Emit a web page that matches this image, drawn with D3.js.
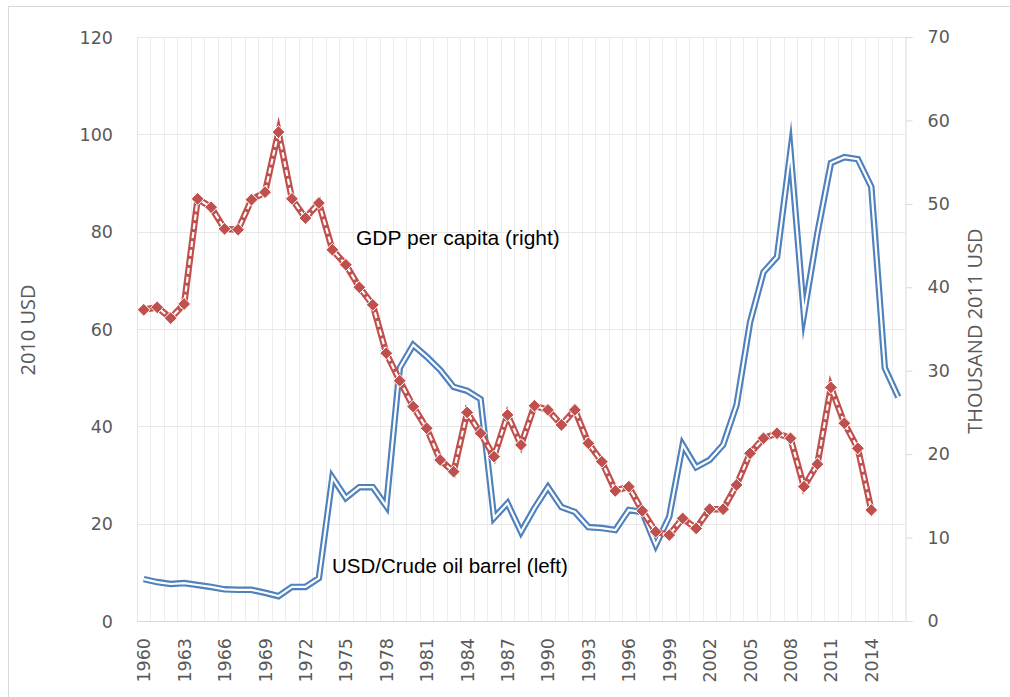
<!DOCTYPE html>
<html>
<head>
<meta charset="utf-8">
<script src="https://cdn.jsdelivr.net/npm/d3@7"></script>
<style>
  body { margin: 0; background: #fff; }
  svg { display: block; }
</style>
</head>
<body>
<div id="chart"></div>
<script>
// years on the category axis
const years = d3.range(1960, 2017);

// oil price, 2010 USD per barrel (left axis)
const oilPrice = [
  8.6, 8.0, 7.6, 7.8, 7.4, 7.0, 6.5, 6.4, 6.4, 5.8,
  5.1, 7.0, 7.0, 8.8, 29.5, 25.3, 27.5, 27.5, 23.6, 52.0,
  56.7, 54.3, 51.6, 48.1, 47.3, 45.6, 21.2, 24.2, 18.3, 23.2,
  27.5, 23.4, 22.4, 19.3, 19.1, 18.7, 22.8, 22.4, 15.6, 21.4,
  36.2, 31.6, 33.1, 36.2, 44.4, 61.4, 71.7, 74.8, 96.5, 63.0,
  79.7, 94.1, 95.3, 94.9, 89.2, 52.0, 46.0
];

// GDP per capita, thousand 2011 USD (right axis), ends in 2014
const gdpPerCapita = [
  37.3, 37.6, 36.3, 38.0, 50.6, 49.6, 47.0, 46.9, 50.5, 51.4,
  58.6, 50.6, 48.3, 50.1, 44.5, 42.7, 40.0, 37.9, 32.1, 28.8,
  25.7, 23.1, 19.3, 17.9, 25.0, 22.5, 19.7, 24.7, 21.1, 25.8,
  25.3, 23.5, 25.3, 21.3, 19.1, 15.6, 16.1, 13.2, 10.7, 10.3,
  12.3, 11.1, 13.4, 13.4, 16.3, 20.1, 21.9, 22.5, 21.9, 16.1,
  18.8, 28.0, 23.7, 20.7, 13.3
];

const leftTicks = [0, 20, 40, 60, 80, 100, 120];
const rightTicks = [0, 10, 20, 30, 40, 50, 60, 70];
const yearLabels = years.filter((y, i) => i % 3 === 0);

const W = 1010, H = 697;
const plot = { left: 137, right: 905, top: 37, bottom: 621 };
const blue = "#4f81bd", red = "#c0504d";
const tickFont = "'DejaVu Sans', Verdana, sans-serif";
const titleFont = "'Liberation Sans Narrow', 'Open Sans', sans-serif";

const svg = d3.select("#chart").append("svg")
  .attr("width", W)
  .attr("height", H);

// outer chart border
svg.append("rect")
  .attr("x", 8.5).attr("y", 6.5)
  .attr("width", W).attr("height", H)
  .attr("fill", "none")
  .attr("stroke", "#d9d9d9");

const x = d3.scaleBand()
  .domain(years)
  .range([plot.left, plot.right]);

const yLeft = d3.scaleLinear().domain([0, 120]).range([plot.bottom, plot.top]);
const yRight = d3.scaleLinear().domain([0, 70]).range([plot.bottom, plot.top]);

// vertical gridlines at category boundaries
svg.append("g")
  .selectAll("line")
  .data(years.slice(1))
  .enter().append("line")
  .attr("x1", d => Math.round(x(d)) + 0.5)
  .attr("x2", d => Math.round(x(d)) + 0.5)
  .attr("y1", plot.top)
  .attr("y2", plot.bottom)
  .attr("stroke", "#ededed");

// horizontal gridlines from left axis
svg.append("g")
  .selectAll("line")
  .data(leftTicks)
  .enter().append("line")
  .attr("x1", plot.left)
  .attr("x2", plot.right)
  .attr("y1", d => Math.round(yLeft(d)) + 0.5)
  .attr("y2", d => Math.round(yLeft(d)) + 0.5)
  .attr("stroke", d => d === 0 ? "#d9d9d9" : "#e8e8e8");

// plot area left edge
svg.append("line")
  .attr("x1", plot.left + 0.5).attr("x2", plot.left + 0.5)
  .attr("y1", plot.top).attr("y2", plot.bottom)
  .attr("stroke", "#e3e3e3");

// left axis labels
svg.append("g")
  .selectAll("text")
  .data(leftTicks)
  .enter().append("text")
  .attr("x", 113)
  .attr("y", d => yLeft(d) + 6.5)
  .attr("text-anchor", "end")
  .attr("font-family", tickFont)
  .attr("font-size", 17.5)
  .attr("fill", "#595959")
  .text(d => d);

// right axis with outward ticks
const rightAxis = svg.append("g")
  .attr("transform", `translate(${plot.right + 0.5},0)`)
  .call(d3.axisRight(yRight).tickValues(rightTicks).tickSize(7).tickPadding(15));
rightAxis.select(".domain").attr("stroke", "#d9d9d9");
rightAxis.selectAll(".tick line").attr("stroke", "#d9d9d9");
rightAxis.selectAll(".tick text")
  .attr("font-family", tickFont)
  .attr("font-size", 17.5)
  .attr("fill", "#595959");

// year labels, rotated
svg.append("g")
  .selectAll("text")
  .data(yearLabels)
  .enter().append("text")
  .attr("transform", d => `translate(${x(d) + x.bandwidth() / 2 + 6.5},638) rotate(-90)`)
  .attr("text-anchor", "end")
  .attr("font-family", tickFont)
  .attr("font-size", 17.5)
  .attr("fill", "#595959")
  .text(d => d);

// axis titles
svg.append("text")
  .attr("transform", "translate(35,330) rotate(-90)")
  .attr("text-anchor", "middle")
  .attr("font-family", titleFont)
  .attr("font-size", 20)
  .attr("fill", "#595959")
  .text("2010 USD");

svg.append("text")
  .attr("transform", "translate(982,331) rotate(-90)")
  .attr("text-anchor", "middle")
  .attr("font-family", titleFont)
  .attr("font-size", 20)
  .attr("fill", "#595959")
  .text("THOUSAND 2011 USD");

const cx = d => x(d) + x.bandwidth() / 2;

// oil price: double line
const oilLine = d3.line()
  .x((d, i) => cx(years[i]))
  .y(d => yLeft(d));

svg.append("path")
  .datum(oilPrice)
  .attr("d", oilLine)
  .attr("fill", "none")
  .attr("stroke", blue)
  .attr("stroke-width", 6.5)
  .attr("stroke-miterlimit", 20);
svg.append("path")
  .datum(oilPrice)
  .attr("d", oilLine)
  .attr("fill", "none")
  .attr("stroke", "#fff")
  .attr("stroke-width", 2.2)
  .attr("stroke-miterlimit", 20);

// GDP per capita: double line with dashed center and diamonds
const gdpLine = d3.line()
  .x((d, i) => cx(years[i]))
  .y(d => yRight(d));

svg.append("path")
  .datum(gdpPerCapita)
  .attr("d", gdpLine)
  .attr("fill", "none")
  .attr("stroke", red)
  .attr("stroke-width", 6.5)
  .attr("stroke-miterlimit", 20);
svg.append("path")
  .datum(gdpPerCapita)
  .attr("d", gdpLine)
  .attr("fill", "none")
  .attr("stroke", "#fff")
  .attr("stroke-width", 2.2)
  .attr("stroke-dasharray", "6,3")
  .attr("stroke-miterlimit", 20);

const diamond = d3.symbol().type(d3.symbolDiamond2).size(105);
svg.append("g")
  .selectAll("path")
  .data(gdpPerCapita)
  .enter().append("path")
  .attr("d", diamond)
  .attr("transform", (d, i) => `translate(${cx(years[i])},${yRight(d)})`)
  .attr("fill", red)
  .attr("stroke", "#fff")
  .attr("stroke-width", 1);

// series annotations
svg.append("text")
  .attr("x", 356).attr("y", 245)
  .attr("font-family", "'Liberation Sans', Arial, sans-serif")
  .attr("font-size", 21)
  .attr("fill", "#000")
  .text("GDP per capita (right)");

svg.append("text")
  .attr("x", 332).attr("y", 573)
  .attr("font-family", "'Liberation Sans', Arial, sans-serif")
  .attr("font-size", 20.5)
  .attr("fill", "#000")
  .text("USD/Crude oil barrel (left)");
</script>
</body>
</html>
